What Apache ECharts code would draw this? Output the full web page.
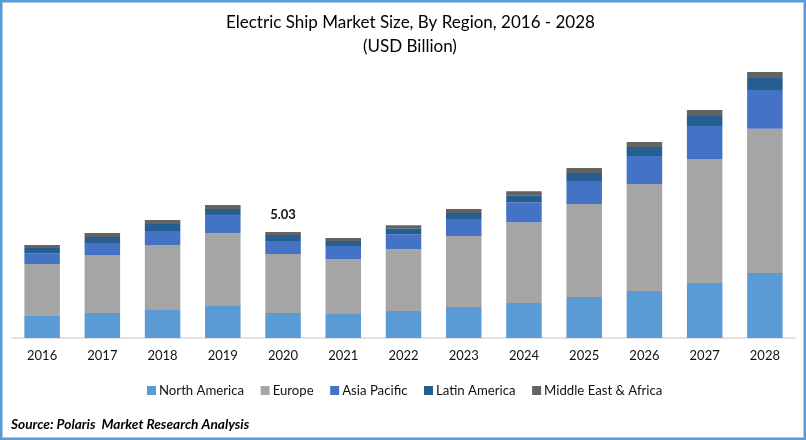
<!DOCTYPE html>
<html><head><meta charset="utf-8">
<style>html,body{margin:0;padding:0;background:#fff}#c{width:806px;height:440px}</style>
<script src="https://cdn.jsdelivr.net/npm/echarts@6/dist/echarts.min.js"></script>
</head><body><div id="c"></div>
<script>
const categories=['2016','2017','2018','2019','2020','2021','2022','2023','2024','2025','2026','2027','2028'];
const northAmerica=[1.04,1.19,1.33,1.52,1.19,1.14,1.28,1.47,1.66,1.95,2.23,2.61,3.09];
const europe=[2.47,2.75,3.09,3.47,2.80,2.61,2.94,3.37,3.84,4.41,5.08,5.89,6.84];
const asiaPacific=[0.52,0.57,0.66,0.81,0.62,0.62,0.71,0.81,0.95,1.09,1.33,1.57,1.85];
const latinAmerica=[0.24,0.28,0.33,0.33,0.28,0.24,0.28,0.28,0.33,0.38,0.43,0.47,0.57];
const middleEastAfrica=[0.14,0.19,0.19,0.19,0.14,0.14,0.14,0.19,0.19,0.24,0.24,0.28,0.28];
const labelled={year:'2020',text:'5.03'};
const font='Lato';
const bar=(name,data,color)=>({name,type:'bar',stack:'t',barWidth:35.5,data,itemStyle:{color}});
const last=bar('Middle East & Africa',middleEastAfrica.map((v,i)=>categories[i]===labelled.year?{value:v,label:{show:true,position:'top',distance:11,formatter:labelled.text,fontFamily:font,fontWeight:'bold',fontSize:13,color:'#111'}}:v),'#636363');
const chart=echarts.init(document.getElementById('c'),null,{renderer:'canvas'});
chart.setOption({
 animation:false,backgroundColor:'#fff',
 title:[
  {text:'Electric Ship Market Size, By Region, 2016 - 2028',left:221,top:9,textStyle:{fontFamily:font,fontWeight:'normal',fontSize:17,color:'#000'}},
  {text:'(USD Billion)',left:358,top:33,textStyle:{fontFamily:font,fontWeight:'normal',fontSize:17,color:'#000'}},
  {text:'Source: Polaris  Market Research Analysis',left:6,top:413,textStyle:{fontFamily:font,fontWeight:'bold',fontStyle:'italic',fontSize:13.7,color:'#000'}}
 ],
 grid:{left:12,right:11,top:60,bottom:102},
 legend:{left:142,top:379,itemWidth:9,itemHeight:9,itemGap:16.5,icon:'rect',textStyle:{fontFamily:font,fontSize:13.2,color:'#111',padding:[0,0,0,-2]},
  data:['North America','Europe','Asia Pacific','Latin America','Middle East & Africa']},
 xAxis:{type:'category',data:categories,axisTick:{show:false},axisLine:{lineStyle:{color:'#d9d9d9',width:1.5}},axisLabel:{fontFamily:font,fontSize:13,color:'#111',margin:11}},
 yAxis:{type:'value',min:0,max:13.2,show:false,splitLine:{show:false}},
 series:[bar('North America',northAmerica,'#5b9bd5'),bar('Europe',europe,'#a5a5a5'),bar('Asia Pacific',asiaPacific,'#4472c4'),bar('Latin America',latinAmerica,'#255e91'),last],
 graphic:[{type:'rect',silent:true,z:100,shape:{x:1.25,y:1.25,width:803.5,height:437.5},style:{fill:'none',stroke:'#5b9bd5',lineWidth:2.5}}]
});
</script></body></html>
